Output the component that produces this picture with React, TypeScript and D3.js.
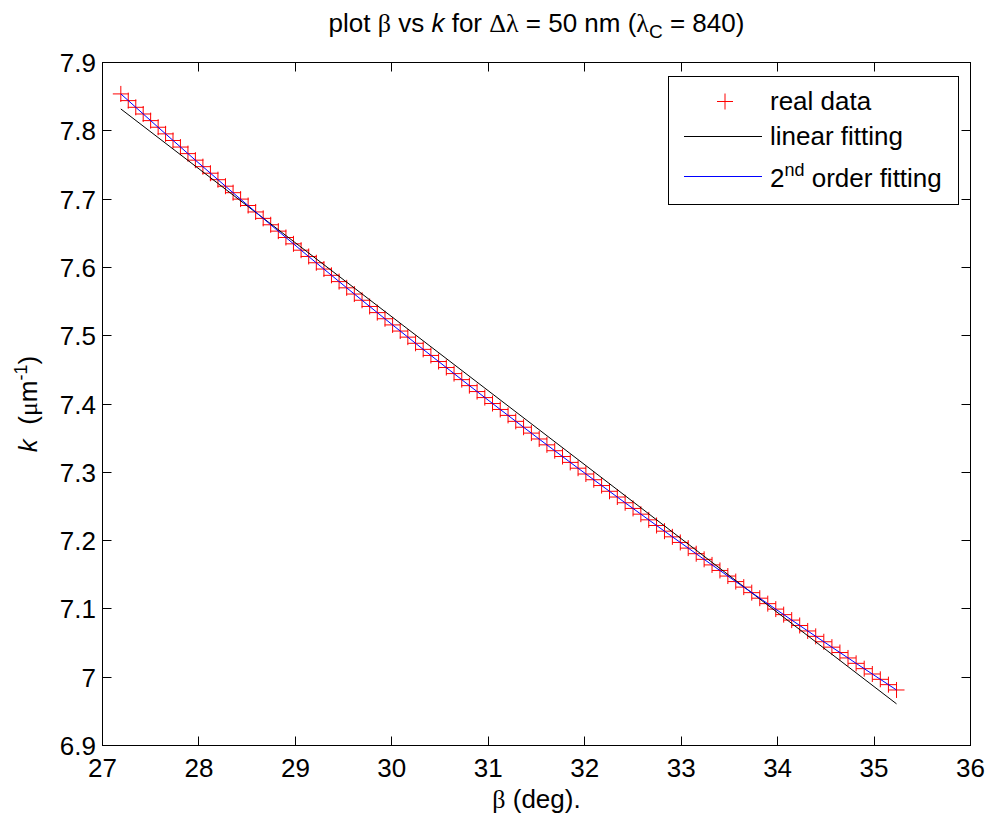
import React, { useEffect, useRef } from "react";
import * as d3 from "d3";

// real data: grating angle beta (deg) and wavenumber k (1/um)
const betaDeg = [
  27.19, 27.267, 27.345, 27.422, 27.499, 27.577, 27.654, 27.731, 27.808, 27.886,
  27.963, 28.041, 28.119, 28.197, 28.275, 28.354, 28.432, 28.51, 28.588, 28.666,
  28.744, 28.823, 28.902, 28.98, 29.059, 29.138, 29.217, 29.296, 29.374, 29.453,
  29.532, 29.611, 29.691, 29.77, 29.849, 29.929, 30.008, 30.087, 30.166, 30.246,
  30.325, 30.405, 30.485, 30.565, 30.645, 30.725, 30.804, 30.884, 30.964, 31.044,
  31.124, 31.205, 31.285, 31.366, 31.447, 31.528, 31.608, 31.689, 31.77, 31.85,
  31.931, 32.012, 32.094, 32.175, 32.257, 32.338, 32.419, 32.501, 32.582, 32.664,
  32.745, 32.827, 32.909, 32.991, 33.073, 33.156, 33.238, 33.32, 33.402, 33.484,
  33.566, 33.649, 33.732, 33.815, 33.898, 33.981, 34.063, 34.146, 34.229, 34.312,
  34.395, 34.479, 34.563, 34.646, 34.73, 34.814, 34.898, 34.982, 35.065, 35.149,
  35.233,
];
const kData = [
  7.854, 7.8442, 7.8344, 7.8246, 7.8149, 7.8052, 7.7955, 7.7858, 7.7762, 7.7666,
  7.757, 7.7475, 7.7379, 7.7284, 7.7189, 7.7094, 7.7, 7.6906, 7.6812, 7.6718,
  7.6624, 7.6531, 7.6438, 7.6345, 7.6252, 7.616, 7.6068, 7.5976, 7.5884, 7.5792,
  7.5701, 7.561, 7.5519, 7.5428, 7.5338, 7.5248, 7.5158, 7.5068, 7.4979, 7.4889,
  7.48, 7.4711, 7.4622, 7.4534, 7.4445, 7.4357, 7.4269, 7.4182, 7.4094, 7.4007,
  7.392, 7.3833, 7.3746, 7.366, 7.3574, 7.3488, 7.3402, 7.3316, 7.3231, 7.3145,
  7.306, 7.2975, 7.2891, 7.2806, 7.2722, 7.2638, 7.2554, 7.2471, 7.2387, 7.2304,
  7.2221, 7.2138, 7.2055, 7.1973, 7.189, 7.1808, 7.1726, 7.1644, 7.1563, 7.1481,
  7.14, 7.1319, 7.1238, 7.1157, 7.1077, 7.0997, 7.0916, 7.0836, 7.0757, 7.0677,
  7.0598, 7.0519, 7.044, 7.0361, 7.0282, 7.0203, 7.0125, 7.0047, 6.9969, 6.9891,
  6.9813,
];

// linear fitting (end points)
const linearBeta = [27.19, 35.233];
const linearK = [7.832, 6.961];

// 2nd order fitting
const quadBeta = [27.19, 27.963, 28.744, 29.532, 30.325, 31.124, 31.931, 32.745, 33.566, 34.395, 35.233];
const quadK = [7.854, 7.757, 7.6624, 7.5701, 7.48, 7.392, 7.306, 7.2221, 7.14, 7.0598, 6.9813];

const xTicks = [27, 28, 29, 30, 31, 32, 33, 34, 35, 36];
const yTicks = [6.9, 7.0, 7.1, 7.2, 7.3, 7.4, 7.5, 7.6, 7.7, 7.8, 7.9];
const yTickLabels = ["6.9", "7", "7.1", "7.2", "7.3", "7.4", "7.5", "7.6", "7.7", "7.8", "7.9"];

const W = 988, H = 823;
const left = 102.5, right = 970.5, top = 62.5, bottom = 745.5;
const font = "'Liberation Sans', Arial, Helvetica, sans-serif";
const greek = "'Liberation Serif', 'DejaVu Serif', serif";

const plus = (cx, cy, r) => `M${cx - r},${cy}H${cx + r}M${cx},${cy - r}V${cy + r}`;

const App = () => {
  const svgRef = useRef(null);

  useEffect(() => {
    const svg = d3.select(svgRef.current);
    svg.selectAll("*").remove();

    const x = d3.scaleLinear().domain([27, 36]).range([left, right]);
    const y = d3.scaleLinear().domain([6.9, 7.9]).range([bottom, top]);
    const crisp = v => Math.round(v - 0.5) + 0.5;

    svg.append("rect").attr("width", W).attr("height", H).attr("fill", "white");

    // data markers
    const gData = svg.append("g");
    betaDeg.forEach((b, i) => {
      gData.append("path")
        .attr("d", plus(x(b), y(kData[i]), 8))
        .attr("stroke", "#ff0000")
        .attr("stroke-width", 1)
        .attr("fill", "none");
    });

    // linear fit
    const line = d3.line()
      .x(d => x(d[0]))
      .y(d => y(d[1]));
    svg.append("path")
      .datum(linearBeta.map((b, i) => [b, linearK[i]]))
      .attr("fill", "none")
      .attr("stroke", "#000")
      .attr("stroke-width", 1)
      .attr("d", line);

    // 2nd order fit
    svg.append("path")
      .datum(quadBeta.map((b, i) => [b, quadK[i]]))
      .attr("fill", "none")
      .attr("stroke", "#0000ff")
      .attr("stroke-width", 1)
      .attr("d", line.curve(d3.curveMonotoneX));

    // axes box + ticks
    const tickLen = 9;
    const gAxis = svg.append("g").attr("stroke", "#000").attr("stroke-width", 1);
    xTicks.forEach(t => {
      const px = crisp(x(t));
      gAxis.append("line").attr("x1", px).attr("x2", px).attr("y1", bottom).attr("y2", bottom - tickLen);
      gAxis.append("line").attr("x1", px).attr("x2", px).attr("y1", top).attr("y2", top + tickLen);
    });
    yTicks.forEach(t => {
      const py = crisp(y(t));
      gAxis.append("line").attr("x1", left).attr("x2", left + tickLen).attr("y1", py).attr("y2", py);
      gAxis.append("line").attr("x1", right).attr("x2", right - tickLen).attr("y1", py).attr("y2", py);
    });
    svg.append("rect")
      .attr("x", left).attr("y", top)
      .attr("width", right - left).attr("height", bottom - top)
      .attr("fill", "none").attr("stroke", "#000").attr("stroke-width", 1);

    // tick labels
    const gText = svg.append("g").attr("font-family", font).attr("font-size", 26).attr("fill", "#000");
    xTicks.forEach(t => {
      gText.append("text").attr("x", x(t)).attr("y", 777).attr("text-anchor", "middle").text(t);
    });
    yTicks.forEach((t, i) => {
      gText.append("text").attr("x", 96).attr("y", y(t) + 9.5).attr("text-anchor", "end").text(yTickLabels[i]);
    });

    // title
    const title = gText.append("text").attr("x", (left + right) / 2).attr("y", 32).attr("text-anchor", "middle");
    title.append("tspan").text("plot ");
    title.append("tspan").attr("font-family", greek).text("β");
    title.append("tspan").text(" vs ");
    title.append("tspan").attr("font-style", "italic").text("k");
    title.append("tspan").text(" for ");
    title.append("tspan").attr("font-family", greek).text("Δλ");
    title.append("tspan").text(" = 50 nm (");
    title.append("tspan").attr("font-family", greek).text("λ");
    title.append("tspan").attr("font-size", 19).attr("dy", 6).text("C");
    title.append("tspan").attr("dy", -6).text(" = 840)");

    // x label
    const xl = gText.append("text").attr("x", (left + right) / 2).attr("y", 808).attr("text-anchor", "middle");
    xl.append("tspan").attr("font-family", greek).text("β");
    xl.append("tspan").text(" (deg).");

    // y label
    const yl = gText.append("text")
      .attr("transform", `translate(37,${(top + bottom) / 2}) rotate(-90)`)
      .attr("text-anchor", "middle");
    yl.append("tspan").attr("font-style", "italic").text("k");
    yl.append("tspan").text("\u00a0 (");
    yl.append("tspan").attr("font-family", greek).text("μ");
    yl.append("tspan").text("m");
    yl.append("tspan").attr("font-size", 18).attr("dy", -10).text("-1");
    yl.append("tspan").attr("dy", 10).text(")");

    // legend
    const lg = svg.append("g");
    lg.append("rect")
      .attr("x", 668.5).attr("y", 76.5).attr("width", 290).attr("height", 128)
      .attr("fill", "white").attr("stroke", "#000").attr("stroke-width", 1);
    lg.append("path").attr("d", plus(725, 101.5, 8)).attr("stroke", "#ff0000").attr("fill", "none");
    lg.append("line").attr("x1", 684).attr("x2", 762).attr("y1", 136.5).attr("y2", 136.5).attr("stroke", "#000");
    lg.append("line").attr("x1", 684).attr("x2", 762).attr("y1", 176.5).attr("y2", 176.5).attr("stroke", "#0000ff");
    const lt = lg.append("g").attr("font-family", font).attr("font-size", 26).attr("fill", "#000");
    lt.append("text").attr("x", 770).attr("y", 110).text("real data");
    lt.append("text").attr("x", 770).attr("y", 145).text("linear fitting");
    const t3 = lt.append("text").attr("x", 770).attr("y", 187);
    t3.append("tspan").text("2");
    t3.append("tspan").attr("font-size", 18).attr("dy", -11).text("nd");
    t3.append("tspan").attr("dy", 11).text(" order fitting");
  }, []);

  return (
    <svg
      ref={svgRef}
      width={W}
      height={H}
      style={{ position: "absolute", left: 0, top: 0, background: "white" }}
    />
  );
};

export default App;
